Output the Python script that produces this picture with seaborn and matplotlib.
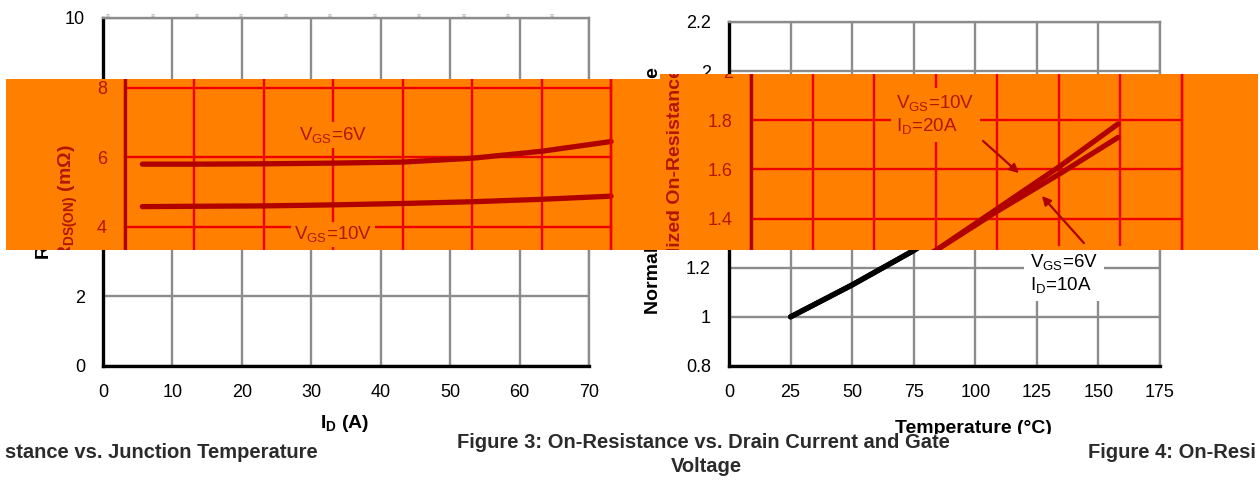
import numpy as np
import seaborn as sns
import matplotlib.pyplot as plt
from matplotlib.patches import Polygon
from matplotlib.transforms import Bbox, TransformedBbox

# Figure 3: on-resistance vs drain current and gate voltage
drain_current = [2.5, 10, 20, 30, 40, 50, 60, 70]
rds_vgs6 = [5.80, 5.80, 5.81, 5.83, 5.86, 5.97, 6.17, 6.45]
rds_vgs10 = [4.58, 4.59, 4.60, 4.63, 4.67, 4.72, 4.79, 4.88]
id_ticks = [0, 10, 20, 30, 40, 50, 60, 70]
rds_ticks = [0, 2, 4, 6, 8, 10]

# Figure 4: normalized on-resistance vs junction temperature
temperature = [25, 50, 75, 100, 125, 149]
norm_vgs10_id20 = [1.00, 1.13, 1.27, 1.44, 1.61, 1.785]
norm_vgs6_id10 = [1.00, 1.13, 1.27, 1.43, 1.58, 1.73]
temp_ticks = [0, 25, 50, 75, 100, 125, 150, 175]
norm_ticks = [0.8, 1.0, 1.2, 1.4, 1.6, 1.8, 2.0, 2.2]

W, H = 1260, 483

sns.set_theme(style="white")
plt.rcParams["font.family"] = ["Liberation Sans", "DejaVu Sans"]
plt.rcParams["mathtext.fontset"] = "custom"
plt.rcParams["mathtext.rm"] = "Liberation Sans"
plt.rcParams["mathtext.bf"] = "Liberation Sans:bold"
plt.rcParams["mathtext.default"] = "regular"

fig = plt.figure(figsize=(12.6, 4.83), dpi=100)


def px_rect(x0, y0, x1, y1):
    return [x0 / W, 1 - y1 / H, (x1 - x0) / W, (y1 - y0) / H]


def px_box(x0, y0, x1, y1):
    # rectangle given in image pixels (top-left origin) -> display bbox
    bb = Bbox.from_extents(x0 / W, 1 - y1 / H, x1 / W, 1 - y0 / H)
    return TransformedBbox(bb, fig.transFigure)


normal = dict(bg="white", grid="#8c8c8c", spine="black", curve="black",
              text="black", box="white")
glitch = dict(bg="none", grid="#ec0000", spine="#b00000", curve="#b00000",
              text="#b31500", box="#ff8000")


def clip_all(ax, box):
    arts = list(ax.lines) + list(ax.texts) + list(ax.spines.values())
    arts += [ax.xaxis.label, ax.yaxis.label]
    for axis in (ax.xaxis, ax.yaxis):
        for t in axis.get_major_ticks():
            arts += [t.label1, t.gridline]
    for a in arts:
        a.set_clip_on(True)
        a.set_clip_box(box)
    for a in ax.texts:
        if getattr(a, "arrow_patch", None) is not None:
            a.arrow_patch.set_clip_on(True)
            a.arrow_patch.set_clip_box(box)


def draw_panels(dx, pal, clips=None, z=0):
    ax1 = fig.add_axes(px_rect(103 + dx, 18, 589 + dx, 366))
    ax2 = fig.add_axes(px_rect(729 + dx, 22, 1160 + dx, 366))
    for ax in (ax1, ax2):
        ax.set_zorder(z)
        ax.set_facecolor(pal["bg"])
        ax.set_axisbelow(True)
        ax.grid(True, color=pal["grid"], lw=1.7)
        ax.tick_params(length=0, pad=13, labelsize=13, labelcolor=pal["text"])
        for side in ("left", "bottom"):
            ax.spines[side].set(color=pal["spine"], lw=2.4)
        for side in ("top", "right"):
            ax.spines[side].set(color=pal["grid"], lw=1.7)

    # left panel
    sns.lineplot(x=drain_current, y=rds_vgs6, ax=ax1, color=pal["curve"],
                 lw=3.8, solid_capstyle="round")
    sns.lineplot(x=drain_current, y=rds_vgs10, ax=ax1, color=pal["curve"],
                 lw=3.8, solid_capstyle="round")
    ax1.set_xlim(0, 70)
    ax1.set_ylim(0, 10)
    ax1.set_xticks(id_ticks)
    ax1.set_yticks(rds_ticks)
    box = dict(boxstyle="square,pad=0.15", fc=pal["box"], ec="none")
    ax1.text(30, 6.64, r"V$_{\mathrm{GS}}$=6V", ha="center", va="center",
             fontsize=13.5, color=pal["text"], bbox=box)
    ax1.text(30, 3.78, r"V$_{\mathrm{GS}}$=10V", ha="center", va="center",
             fontsize=13.5, color=pal["text"], bbox=box)
    for xm in np.linspace(0.7, 64.7, 11):
        ax1.text(xm, 10.05, "≡", ha="center", va="center", fontsize=5,
                 color="#a8a8a8")
    ax1.set_xlabel(r"I$_{\mathbf{D}}$ (A)", fontsize=14, fontweight="bold",
                   color=pal["text"])
    ax1.set_ylabel(r"R$_{\mathbf{DS(ON)}}$ (mΩ)", fontsize=14,
                   fontweight="bold", color=pal["text"])
    ax1.xaxis.set_label_coords(0.498, -0.135)
    ax1.yaxis.set_label_coords(-0.093, 0.471)

    # right panel
    sns.lineplot(x=temperature, y=norm_vgs10_id20, ax=ax2, color=pal["curve"],
                 lw=3.8, solid_capstyle="round")
    sns.lineplot(x=temperature, y=norm_vgs6_id10, ax=ax2, color=pal["curve"],
                 lw=3.8, solid_capstyle="round")
    ax2.set_xlim(0, 175)
    ax2.set_ylim(0.8, 2.2)
    ax2.set_xticks(temp_ticks)
    ax2.set_yticks(norm_ticks, labels=[f"{v:g}" for v in norm_ticks])
    box2 = dict(boxstyle="square,pad=0.3", fc=pal["box"], ec="none")
    ax2.text(59, 1.91, "V$_{\\mathrm{GS}}$=10V\nI$_{\\mathrm{D}}$=20A",
             ha="left", va="top", fontsize=13.5, color=pal["text"], bbox=box2)
    ax2.text(122.2, 1.264, "V$_{\\mathrm{GS}}$=6V\nI$_{\\mathrm{D}}$=10A",
             ha="left", va="top", fontsize=13.5, color=pal["text"], bbox=box2)
    arrow = dict(arrowstyle="-|>", color=pal["curve"], lw=1.6,
                 mutation_scale=13, shrinkA=0, shrinkB=0)
    ax2.annotate("", xy=(108.8, 1.585), xytext=(94.2, 1.716), arrowprops=arrow)
    ax2.annotate("", xy=(118.1, 1.492), xytext=(135.2, 1.30), arrowprops=arrow)
    ax2.set_xlabel("Temperature (°C)", fontsize=14, fontweight="bold",
                   color=pal["text"])
    ax2.set_ylabel("Normalized On-Resistance", fontsize=14, fontweight="bold",
                   color=pal["text"])
    ax2.xaxis.set_label_coords(0.566, -0.157)
    ax2.yaxis.set_label_coords(-0.155, 0.509)

    if clips is not None:
        clip_all(ax1, clips[0])
        clip_all(ax2, clips[1])
    return ax1, ax2


ax1, ax2 = draw_panels(0, normal)

# bottom of the temperature label is cut off by the caption row
ax2.xaxis.label.set_clip_on(True)
ax2.xaxis.label.set_clip_box(px_box(0, 0, W, 434))

# shifted, recoloured strip across the middle of the page
band_px = [(6, 79), (660, 79), (660, 74), (1258, 74), (1258, 250), (6, 250)]
band = Polygon([(x / W, 1 - y / H) for x, y in band_px], closed=True,
               transform=fig.transFigure, fc="#ff8000", ec="none", zorder=1)
fig.add_artist(band)
draw_panels(22, glitch, clips=(px_box(6, 79, 660, 250),
                               px_box(660, 74, 1258, 250)), z=2)

cap = dict(fontsize=14.5, fontweight="bold", color="#2b2b2b", va="center")
fig.text(5 / W, 1 - 453 / H, "stance vs. Junction Temperature", ha="left", **cap)
fig.text(703 / W, 1 - 443 / H,
         "Figure 3: On-Resistance vs. Drain Current and Gate", ha="center", **cap)
fig.text(706 / W, 1 - 467 / H, "Voltage", ha="center", **cap)
fig.text(1088 / W, 1 - 453 / H, "Figure 4: On-Resi", ha="left", **cap)

fig.savefig("out.png", dpi=100, facecolor="white")
